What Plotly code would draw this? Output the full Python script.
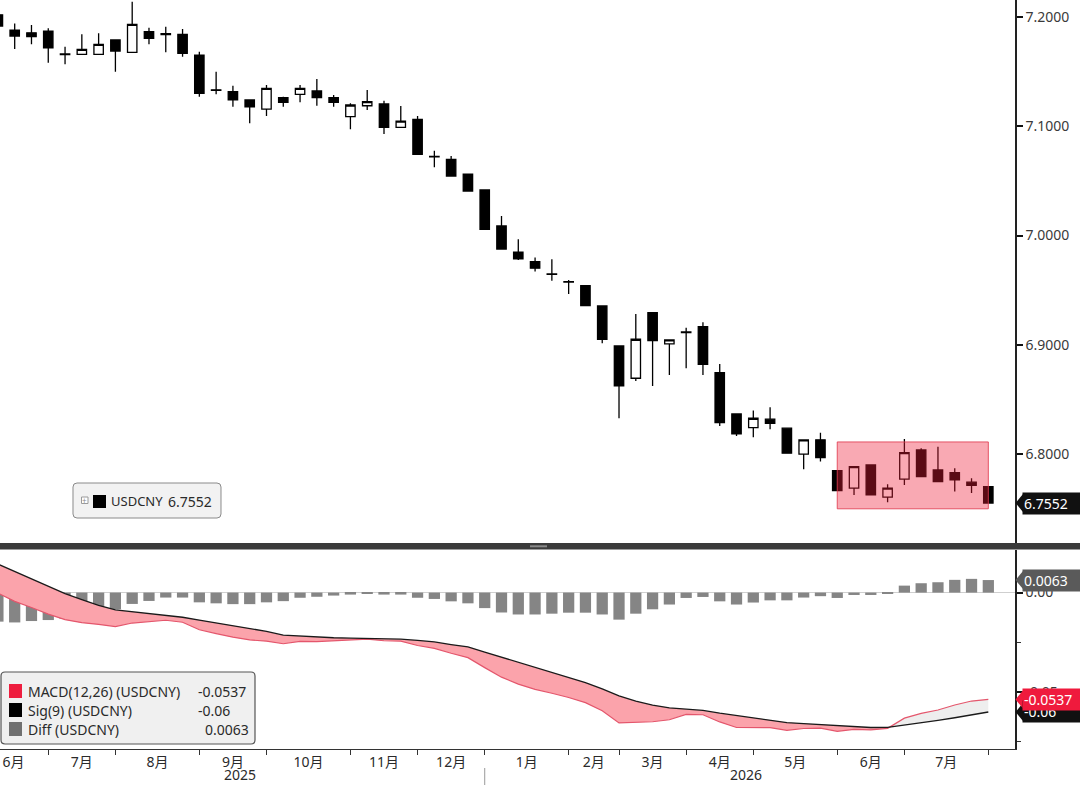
import plotly.graph_objects as go
from plotly.subplots import make_subplots

# ---------------- data ----------------
dates = ["2025-06-13", "2025-06-20", "2025-06-27", "2025-07-04", "2025-07-11", "2025-07-18",
         "2025-07-25", "2025-08-01", "2025-08-08", "2025-08-15", "2025-08-22", "2025-08-29",
         "2025-09-05", "2025-09-12", "2025-09-19", "2025-09-26", "2025-10-03", "2025-10-10",
         "2025-10-17", "2025-10-24", "2025-10-31", "2025-11-07", "2025-11-14", "2025-11-21",
         "2025-11-28", "2025-12-05", "2025-12-12", "2025-12-19", "2025-12-26", "2026-01-02",
         "2026-01-09", "2026-01-16", "2026-01-23", "2026-01-30", "2026-02-06", "2026-02-13",
         "2026-02-27", "2026-03-06", "2026-03-13", "2026-03-20", "2026-03-27", "2026-04-03",
         "2026-04-10", "2026-04-17", "2026-04-24", "2026-05-01", "2026-05-08", "2026-05-15",
         "2026-05-22", "2026-05-29", "2026-06-05", "2026-06-12", "2026-06-19", "2026-06-26",
         "2026-07-03", "2026-07-10", "2026-07-17", "2026-07-24", "2026-07-31", "2026-08-07"]

opens = [7.2020, 7.1881, 7.1856, 7.1872, 7.1662, 7.1659, 7.1659, 7.1790, 7.1677, 7.1866,
         7.1848, 7.1842, 7.1652, 7.1334, 7.1317, 7.1241, 7.1158, 7.1262, 7.1293, 7.1323,
         7.1262, 7.1088, 7.1188, 7.1204, 7.0991, 7.1064, 7.0724, 7.0698, 7.0561, 7.0417,
         7.0088, 6.9847, 6.9761, 6.9648, 6.9578, 6.9541, 6.9356, 6.8990, 6.8694, 6.9294,
         6.9008, 6.9112, 6.9166, 6.8745, 6.8367, 6.8242, 6.8319, 6.8237, 6.7999, 6.8130,
         6.7849, 6.7688, 6.7901, 6.7605, 6.7770, 6.8038, 6.7855, 6.7830, 6.7743, 6.7702]
highs = [7.2040, 7.1942, 7.1927, 7.1897, 7.1728, 7.1842, 7.1851, 7.1796, 7.2140, 7.1902,
         7.1911, 7.1890, 7.1682, 7.1500, 7.1371, 7.1245, 7.1378, 7.1271, 7.1378, 7.1433,
         7.1286, 7.1210, 7.1332, 7.1234, 7.1186, 7.1094, 7.0777, 7.0728, 7.0563, 7.0420,
         7.0179, 6.9966, 6.9798, 6.9783, 6.9594, 6.9545, 6.9358, 6.8992, 6.9283, 6.9296,
         6.9050, 6.9157, 6.9207, 6.8825, 6.8370, 6.8398, 6.8429, 6.8240, 6.8132, 6.8196,
         6.7851, 6.7885, 6.7905, 6.7724, 6.8139, 6.8054, 6.8068, 6.7871, 6.7779, 6.7705]
lows = [7.1900, 7.1707, 7.1750, 7.1582, 7.1567, 7.1655, 7.1655, 7.1500, 7.1670, 7.1750,
        7.1677, 7.1637, 7.1271, 7.1293, 7.1179, 7.1027, 7.1094, 7.1179, 7.1219, 7.1188,
        7.1179, 7.0972, 7.1149, 7.0929, 7.0988, 7.0744, 7.0625, 7.0545, 7.0408, 7.0057,
        6.9877, 6.9777, 6.9670, 6.9587, 6.9465, 6.9355, 6.9014, 6.8328, 6.8669, 6.8624,
        6.8724, 6.8786, 6.8724, 6.8258, 6.8166, 6.8154, 6.8228, 6.8005, 6.7862, 6.7931,
        6.7666, 6.7626, 6.7624, 6.7560, 6.7718, 6.7794, 6.7748, 6.7657, 6.7644, 6.7552]
closes = [7.1918, 7.1826, 7.1820, 7.1719, 7.1657, 7.1704, 7.1750, 7.1689, 7.1933, 7.1805,
          7.1840, 7.1668, 7.1302, 7.1330, 7.1241, 7.1179, 7.1348, 7.1219, 7.1348, 7.1262,
          7.1219, 7.1195, 7.1225, 7.0991, 7.1048, 7.0744, 7.0720, 7.0545, 7.0408, 7.0057,
          6.9877, 6.9786, 6.9701, 6.9644, 6.9575, 6.9358, 6.9051, 6.8624, 6.9051, 6.9038,
          6.9045, 6.9118, 6.8822, 6.8288, 6.8184, 6.8328, 6.8282, 6.8008, 6.8130, 6.7968,
          6.7666, 6.7885, 6.7626, 6.7688, 6.8013, 6.7794, 6.7748, 6.7764, 6.7713, 6.7552]

macd = [-0.0003, -0.0044, -0.0075, -0.0108, -0.0136, -0.0151, -0.0160, -0.0171, -0.0153, -0.0147,
        -0.0139, -0.0149, -0.0187, -0.0206, -0.0224, -0.0238, -0.0244, -0.0257, -0.0245, -0.0246,
        -0.0242, -0.0239, -0.0234, -0.0242, -0.0244, -0.0266, -0.0280, -0.0305, -0.0327, -0.0377,
        -0.0425, -0.0460, -0.0486, -0.0506, -0.0527, -0.0553, -0.0594, -0.0655, -0.0652, -0.0649,
        -0.0639, -0.0612, -0.0614, -0.0650, -0.0678, -0.0678, -0.0679, -0.0692, -0.0683, -0.0681,
        -0.0697, -0.0687, -0.0690, -0.0682, -0.0631, -0.0607, -0.0590, -0.0565, -0.0545, -0.0537]
signal = [0.0143, 0.0106, 0.0068, 0.0030, -0.0005, -0.0035, -0.0064, -0.0087, -0.0096, -0.0105,
          -0.0114, -0.0124, -0.0138, -0.0152, -0.0166, -0.0180, -0.0195, -0.0214, -0.0219, -0.0225,
          -0.0227, -0.0229, -0.0230, -0.0232, -0.0234, -0.0240, -0.0248, -0.0261, -0.0273, -0.0299,
          -0.0325, -0.0350, -0.0376, -0.0400, -0.0426, -0.0452, -0.0484, -0.0519, -0.0546, -0.0565,
          -0.0579, -0.0585, -0.0592, -0.0606, -0.0618, -0.0628, -0.0640, -0.0653, -0.0658, -0.0663,
          -0.0670, -0.0675, -0.0678, -0.0677, -0.0666, -0.0654, -0.0642, -0.0629, -0.0614, -0.0600]
diff = [-0.0146, -0.0150, -0.0143, -0.0138, -0.0131, -0.0116, -0.0096, -0.0084, -0.0057, -0.0042,
        -0.0025, -0.0025, -0.0049, -0.0054, -0.0058, -0.0058, -0.0049, -0.0043, -0.0026, -0.0021,
        -0.0015, -0.0010, -0.0004, -0.0010, -0.0010, -0.0026, -0.0032, -0.0044, -0.0054, -0.0078,
        -0.0100, -0.0110, -0.0110, -0.0106, -0.0101, -0.0101, -0.0110, -0.0136, -0.0106, -0.0084,
        -0.0060, -0.0027, -0.0022, -0.0044, -0.0060, -0.0050, -0.0039, -0.0039, -0.0025, -0.0018,
        -0.0027, -0.0012, -0.0012, -0.0005, 0.0035, 0.0047, 0.0052, 0.0064, 0.0069, 0.0063]

month_label_dates = ["2025-06-19 12:00", "2025-07-18", "2025-08-18 12:00", "2025-09-19",
                     "2025-10-20 12:00", "2025-11-21", "2025-12-19", "2026-01-19 12:00",
                     "2026-02-23 12:00", "2026-03-20", "2026-04-17", "2026-05-18 12:00",
                     "2026-06-19", "2026-07-20 12:00"]
month_labels = ["6月", "7月", "8月", "9月", "10月", "11月", "12月",
                "1月", "2月", "3月", "4月", "5月", "6月", "7月"]
month_tick_dates = ["2025-07-04", "2025-08-01", "2025-09-05", "2025-10-03", "2025-11-07",
                    "2025-12-05", "2026-01-02", "2026-02-06", "2026-03-06", "2026-04-03",
                    "2026-05-01", "2026-06-05", "2026-07-03", "2026-08-07"]
year_labels = ["2025", "2026"]
year_label_dates = ["2025-09-22", "2026-04-28"]
year_break_date = "2026-01-02"
price_ticks = [7.2, 7.1, 7.0, 6.9, 6.8]
macd_ticks = [0.0, -0.05]
macd_tick_text = ["0.00", "-0.05"]
macd_minor_ticks = [-0.025, -0.075]
highlight_box = dict(x0="2026-06-05", x1="2026-08-07", y0=6.7499, y1=6.8111)
cny_break = ["2026-02-16", "2026-02-23"]

# ---------------- geometry helpers ----------------
W, H = 1080, 785
ML, MR, MT, MB = 0, 65, 0, 36
PW = W - ML - MR
PH = H - MT - MB


def xp(px):
    return (px - ML) / PW


def yp(py):
    return (PH - (py - MT)) / PH


FONT = "Noto Sans, Noto Sans CJK SC, sans-serif"
TXT = "#2a2a2a"

fig = make_subplots(rows=2, cols=1, shared_xaxes=True, vertical_spacing=0.01)

# price candles
fig.add_trace(go.Candlestick(
    x=dates, open=opens, high=highs, low=lows, close=closes,
    increasing=dict(fillcolor="white", line=dict(color="black", width=1.3)),
    decreasing=dict(fillcolor="black", line=dict(color="black", width=1.3)),
    whiskerwidth=0, hoverinfo="skip", name="USDCNY"), row=1, col=1)

# MACD fills (pink where MACD below signal, light grey where above)
n_cross = 53
fig.add_trace(go.Scatter(x=dates[:n_cross + 1], y=signal[:n_cross + 1], mode="lines",
                         line=dict(width=0), hoverinfo="skip"), row=2, col=1)
fig.add_trace(go.Scatter(x=dates[:n_cross + 1], y=macd[:n_cross + 1], mode="lines",
                         line=dict(width=0), fill="tonexty", fillcolor="#fba3ab",
                         hoverinfo="skip"), row=2, col=1)
fig.add_trace(go.Scatter(x=dates[n_cross:], y=signal[n_cross:], mode="lines",
                         line=dict(width=0), hoverinfo="skip"), row=2, col=1)
fig.add_trace(go.Scatter(x=dates[n_cross:], y=macd[n_cross:], mode="lines",
                         line=dict(width=0), fill="tonexty", fillcolor="#eeeeee",
                         hoverinfo="skip"), row=2, col=1)
# Diff histogram
fig.add_trace(go.Bar(x=dates, y=diff, marker=dict(color="#858585", line=dict(width=0)),
                     hoverinfo="skip"), row=2, col=1)
# lines
fig.add_trace(go.Scatter(x=dates, y=macd, mode="lines",
                         line=dict(color="#e4566c", width=1.2), hoverinfo="skip"), row=2, col=1)
fig.add_trace(go.Scatter(x=dates, y=signal, mode="lines",
                         line=dict(color="#1a1a1a", width=1.3), hoverinfo="skip"), row=2, col=1)

x_range = ["2025-06-13 21:00", "2026-08-18 03:00"]
fig.update_layout(
    width=W, height=H, margin=dict(l=ML, r=MR, t=MT, b=MB, pad=0),
    plot_bgcolor="white", paper_bgcolor="white", showlegend=False,
    hovermode=False, boxgap=0.2, bargap=0.33,
    font=dict(family=FONT, size=14, color=TXT),
    xaxis=dict(range=x_range, rangebreaks=[dict(bounds=cny_break)],
               rangeslider=dict(visible=False), showticklabels=False, ticks="",
               showline=False, showgrid=False, zeroline=False),
    xaxis2=dict(range=x_range, rangebreaks=[dict(bounds=cny_break)],
                tickmode="array", tickvals=month_label_dates, ticktext=month_labels,
                ticks="", showline=True, linecolor="#333333", linewidth=1,
                showgrid=False, zeroline=False, ticklabeloverflow="allow",
                tickfont=dict(family=FONT, size=14, color=TXT),
                minor=dict(tickmode="array", tickvals=month_tick_dates, ticks="outside",
                           ticklen=5, tickwidth=1, tickcolor="#333333", showgrid=False)),
    yaxis=dict(domain=[yp(543), 1.0], range=[6.7186, 7.2156], side="right",
               tickmode="array", tickvals=price_ticks, tickformat=".4f",
               ticks="outside", ticklen=6, tickwidth=2, tickcolor="#111111",
               showline=True, linecolor="#222222", linewidth=1.5,
               showgrid=False, zeroline=False,
               tickfont=dict(family=FONT, size=14, color="#3a3a3a")),
    yaxis2=dict(domain=[0.0, yp(550)], range=[-0.0786, 0.0214], side="right",
                tickmode="array", tickvals=macd_ticks, ticktext=macd_tick_text,
                ticks="outside", ticklen=6, tickwidth=2, tickcolor="#111111",
                minor=dict(tickmode="array", tickvals=macd_minor_ticks, ticks="outside",
                           ticklen=4, tickwidth=1, tickcolor="#333333", showgrid=False),
                showline=True, linecolor="#222222", linewidth=1.5,
                showgrid=False, zeroline=True, zerolinecolor="#cfcfcf", zerolinewidth=1,
                tickfont=dict(family=FONT, size=14, color="#3a3a3a")),
)

shapes = []
annotations = []


def rrect_path(x0, y0, x1, y1, r):
    P = lambda a, b: f"{xp(a):.5f},{yp(b):.5f}"
    return (f"M {P(x0 + r, y0)} L {P(x1 - r, y0)} Q {P(x1, y0)} {P(x1, y0 + r)} "
            f"L {P(x1, y1 - r)} Q {P(x1, y1)} {P(x1 - r, y1)} L {P(x0 + r, y1)} "
            f"Q {P(x0, y1)} {P(x0, y1 - r)} L {P(x0, y0 + r)} Q {P(x0, y0)} {P(x0 + r, y0)} Z")


def prect(x0, y0, x1, y1, color, line_color=None, lw=0):
    shapes.append(dict(type="rect", xref="paper", yref="paper",
                       x0=xp(x0), x1=xp(x1), y0=yp(y1), y1=yp(y0),
                       fillcolor=color, line=dict(color=line_color or color, width=lw),
                       layer="above"))


def ptext(x, y, text, anchor="left", size=14, color=TXT):
    annotations.append(dict(xref="paper", yref="paper", x=xp(x), y=yp(y), text=text,
                            showarrow=False, xanchor=anchor, yanchor="middle",
                            font=dict(family=FONT, size=size, color=color)))


# highlighted zone
shapes.append(dict(type="rect", xref="x", yref="y", layer="above",
                   fillcolor="rgba(240,30,55,0.38)",
                   line=dict(color="rgba(225,60,80,0.85)", width=1), **highlight_box))

# panel separator
shapes.append(dict(type="rect", xref="paper", yref="paper", x0=-0.01, x1=1.08,
                   y0=yp(549.5), y1=yp(543), fillcolor="#3b3b3b", line=dict(width=0),
                   layer="above"))
prect(530, 545.3, 547, 547.3, "#8a8a8a")

# year separator
shapes.append(dict(type="line", xref="x2", yref="paper", x0=year_break_date, x1=year_break_date,
                   y0=yp(768), y1=yp(786), line=dict(color="#999999", width=1)))
for d, t in zip(year_label_dates, year_labels):
    annotations.append(dict(xref="x2", yref="paper", x=d, y=yp(774.5), text=t, showarrow=False,
                            xanchor="center", yanchor="middle",
                            font=dict(family=FONT, size=14, color=TXT)))

# price legend box
shapes.append(dict(type="path", xref="paper", yref="paper", path=rrect_path(73, 483, 221, 518, 4),
                   fillcolor="#f2f2f2", line=dict(color="#8a8a8a", width=1), layer="above"))
prect(81.5, 497, 88, 503.5, "white", "#9a9a9a", 1)
ptext(84.8, 500.3, "+", anchor="center", size=8, color="#888888")
prect(93, 495, 106, 508, "black")
ptext(109, 501, "USDCNY", size=13)
ptext(214, 501, f"{closes[-1]:.4f}", anchor="right", size=14)

# MACD legend box
shapes.append(dict(type="path", xref="paper", yref="paper", path=rrect_path(1, 672, 255, 744, 4),
                   fillcolor="#f0f0f0", line=dict(color="#555555", width=1.2), layer="above"))
legend_rows = [("#ee1d3e", "MACD(12,26) (USDCNY)", f"{macd[-1]:.4f}", 196, 691),
               ("#000000", "Sig(9) (USDCNY)", f"{signal[-1]:.2f}", 196, 710),
               ("#707070", "Diff (USDCNY)", f"{diff[-1]:.4f}", 203, 729)]
for col, lab, val, vx, y in legend_rows:
    prect(9, y - 7, 22, y + 7, col)
    ptext(26, y, lab)
    ptext(vx, y, val)


# right-side value tags
def tag(yref, yval, text, bg):
    shapes.append(dict(type="path", xref="paper", yref=yref, ysizemode="pixel", yanchor=yval,
                       path=f"M {xp(1015.5):.5f},0 L {xp(1023):.5f},9 L {xp(1023):.5f},-9 Z",
                       fillcolor=bg, line=dict(width=0), layer="above"))
    annotations.append(dict(xref="paper", yref=yref, x=xp(1022), y=yval, text=text,
                            showarrow=False, xanchor="left", yanchor="middle", align="left",
                            bgcolor=bg, borderpad=1, width=62,
                            font=dict(family=FONT, size=14, color="white")))


tag("y", closes[-1], f"{closes[-1]:.4f}", "#111111")
tag("y2", diff[-1], f"{diff[-1]:.4f}", "#5a5a5a")
tag("y2", signal[-1], f"{signal[-1]:.2f}", "#111111")
tag("y2", macd[-1], f"{macd[-1]:.4f}", "#ef1a3d")

fig.update_layout(shapes=shapes, annotations=annotations)
fig.write_html("out.html")
